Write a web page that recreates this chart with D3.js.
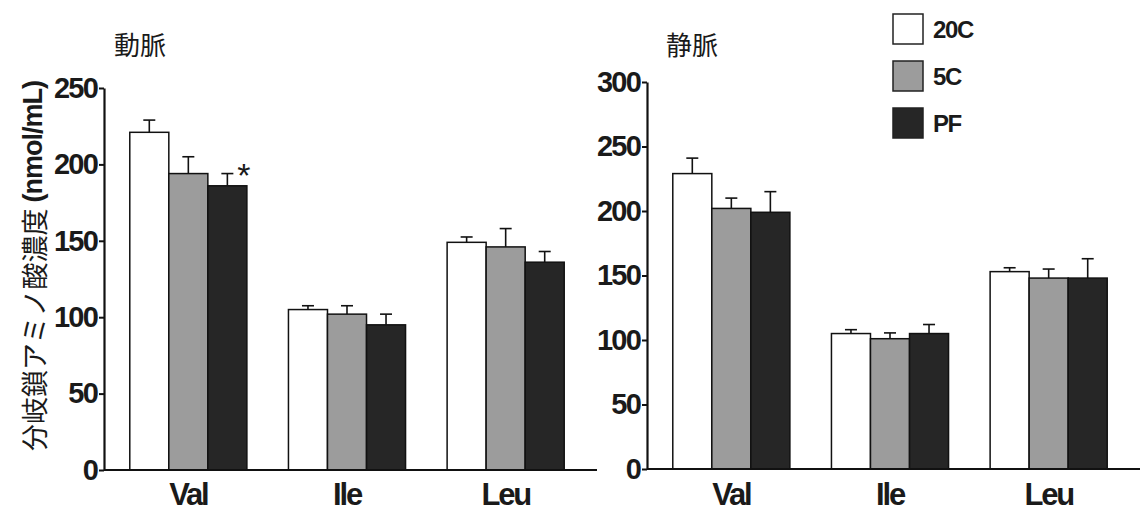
<!DOCTYPE html>
<html>
<head>
<meta charset="utf-8">
<script src="https://cdn.jsdelivr.net/npm/d3@7"></script>
<style>
  body { margin: 0; background: #fff; }
  svg { display: block; font-family: "Liberation Sans", Arial, sans-serif; }
</style>
</head>
<body>
<svg id="svg" width="1140" height="512"></svg>
<script>
var categories = ["Val", "Ile", "Leu"];
var series = ["20C", "5C", "PF"];

// 動脈 (arterial) means and error (upper bar only)
var art20C = [221, 105, 149];
var art5C = [194, 102, 146];
var artPF = [186, 95, 136];
var art20CErr = [8, 2.5, 3.5];
var art5CErr = [11, 5.5, 12];
var artPFErr = [8, 7, 7];

// 静脈 (venous)
var ven20C = [229, 105, 153];
var ven5C = [202, 101, 148];
var venPF = [199, 105, 148];
var ven20CErr = [12, 3, 3];
var ven5CErr = [8, 4.5, 7];
var venPFErr = [16, 7, 15];

var artTicks = [0, 50, 100, 150, 200, 250];
var venTicks = [0, 50, 100, 150, 200, 250, 300];

var fills = { "20C": "#ffffff", "5C": "#9c9c9c", "PF": "#262626" };

var svg = d3.select("#svg");

function rows(means, errs) {
    var out = [];
    categories.forEach(function(c, i) {
        series.forEach(function(s, j) {
            out.push({ cat: c, ser: s, v: means[j][i], e: errs[j][i] });
        });
    });
    return out;
}

function drawPanel(p) {
    var g = svg.append("g");
    var x = d3.scaleBand().domain(categories).range(p.xr).paddingInner(0.262).paddingOuter(0.131);
    var xs = d3.scaleBand().domain(series).range([0, x.bandwidth()]);
    var y = d3.scaleLinear().domain([0, p.max]).range(p.yr);

    var data = rows(p.means, p.errs);

    // error bars (upper only)
    var eb = g.selectAll(".err").data(data).enter().append("g").attr("class", "err")
        .attr("stroke", "#111").attr("stroke-width", 1.6);
    eb.append("line")
        .attr("x1", function(d) { return x(d.cat) + xs(d.ser) + xs.bandwidth() / 2; })
        .attr("x2", function(d) { return x(d.cat) + xs(d.ser) + xs.bandwidth() / 2; })
        .attr("y1", function(d) { return y(d.v); })
        .attr("y2", function(d) { return y(d.v + d.e); });
    eb.append("line")
        .attr("x1", function(d) { return x(d.cat) + xs(d.ser) + xs.bandwidth() / 2 - 6; })
        .attr("x2", function(d) { return x(d.cat) + xs(d.ser) + xs.bandwidth() / 2 + 6; })
        .attr("y1", function(d) { return y(d.v + d.e); })
        .attr("y2", function(d) { return y(d.v + d.e); });

    // bars
    g.selectAll(".bar").data(data).enter().append("rect").attr("class", "bar")
        .attr("x", function(d) { return x(d.cat) + xs(d.ser); })
        .attr("y", function(d) { return y(d.v); })
        .attr("width", xs.bandwidth())
        .attr("height", function(d) { return y(0) - y(d.v); })
        .attr("fill", function(d) { return fills[d.ser]; })
        .attr("stroke", "#111")
        .attr("stroke-width", 1.5);

    // y axis
    var ax = g.append("g")
        .attr("transform", "translate(" + p.xr0 + ",0)")
        .call(d3.axisLeft(y).tickValues(p.ticks).tickSize(5).tickSizeOuter(0).tickPadding(2));
    ax.select(".domain").attr("stroke", "#111").attr("stroke-width", 2.2);
    ax.selectAll(".tick line").attr("stroke", "#111").attr("stroke-width", 2);
    ax.selectAll(".tick text")
        .attr("font-size", 29).attr("font-weight", "bold")
        .attr("letter-spacing", -1.8).attr("fill", "#1a1a1a")
        .attr("font-family", "Liberation Sans, Arial, sans-serif");

    // baseline
    g.append("line")
        .attr("x1", p.xr0).attr("x2", p.baseEnd)
        .attr("y1", y(0)).attr("y2", y(0))
        .attr("stroke", "#111").attr("stroke-width", 2.2);

    // category labels
    g.selectAll(".cat").data(categories).enter().append("text")
        .attr("x", function(d) { return x(d) + x.bandwidth() / 2; })
        .attr("y", 505)
        .attr("text-anchor", "middle")
        .attr("font-size", 31).attr("font-weight", "bold")
        .attr("letter-spacing", -2.2).attr("fill", "#1a1a1a")
        .text(function(d) { return d; });

    // title
    g.append("text")
        .attr("x", p.titleX).attr("y", 55)
        .attr("font-size", 26)
        .attr("font-family", "Noto Sans CJK JP, sans-serif")
        .attr("fill", "#1a1a1a")
        .text(p.title);

    return { x: x, xs: xs, y: y };
}

var left = drawPanel({
    title: "動脈", titleX: 114,
    means: [art20C, art5C, artPF], errs: [art20CErr, art5CErr, artPFErr],
    max: 250, ticks: artTicks,
    xr: [109, 585], xr0: 104, baseEnd: 597, yr: [470, 88]
});

var right = drawPanel({
    title: "静脈", titleX: 666,
    means: [ven20C, ven5C, venPF], errs: [ven20CErr, ven5CErr, venPFErr],
    max: 300, ticks: venTicks,
    xr: [652, 1128], xr0: 647, baseEnd: 1140, yr: [469, 82]
});

// significance mark on arterial Val PF
svg.append("text")
    .attr("x", left.x("Val") + left.xs("PF") + left.xs.bandwidth() - 3)
    .attr("y", left.y(artPF[0] + artPFErr[0]) + 13)
    .attr("text-anchor", "middle")
    .attr("font-size", 34)
    .attr("fill", "#1a1a1a")
    .text("*");

// y axis title
var yt = svg.append("text")
    .attr("transform", "translate(33,266) rotate(-90)")
    .attr("text-anchor", "middle")
    .attr("dominant-baseline", "central")
    .attr("font-size", 27)
    .attr("fill", "#1a1a1a");
yt.append("tspan").attr("font-family", "Noto Sans CJK JP, sans-serif").text("分岐鎖アミノ酸濃度 ");
yt.append("tspan").attr("font-weight", "bold").attr("letter-spacing", -1).text("(nmol/mL)");

// legend
var leg = svg.selectAll(".leg").data(series).enter().append("g")
    .attr("transform", function(d, i) { return "translate(893," + (14 + i * 47) + ")"; });
leg.append("rect")
    .attr("width", 30).attr("height", 30)
    .attr("fill", function(d) { return fills[d]; })
    .attr("stroke", "#222").attr("stroke-width", 1.5);
leg.append("text")
    .attr("x", 40).attr("y", 15)
    .attr("dominant-baseline", "central")
    .attr("font-size", 24).attr("font-weight", "bold")
    .attr("letter-spacing", -1.4).attr("fill", "#1a1a1a")
    .text(function(d) { return d; });
</script>
</body>
</html>
